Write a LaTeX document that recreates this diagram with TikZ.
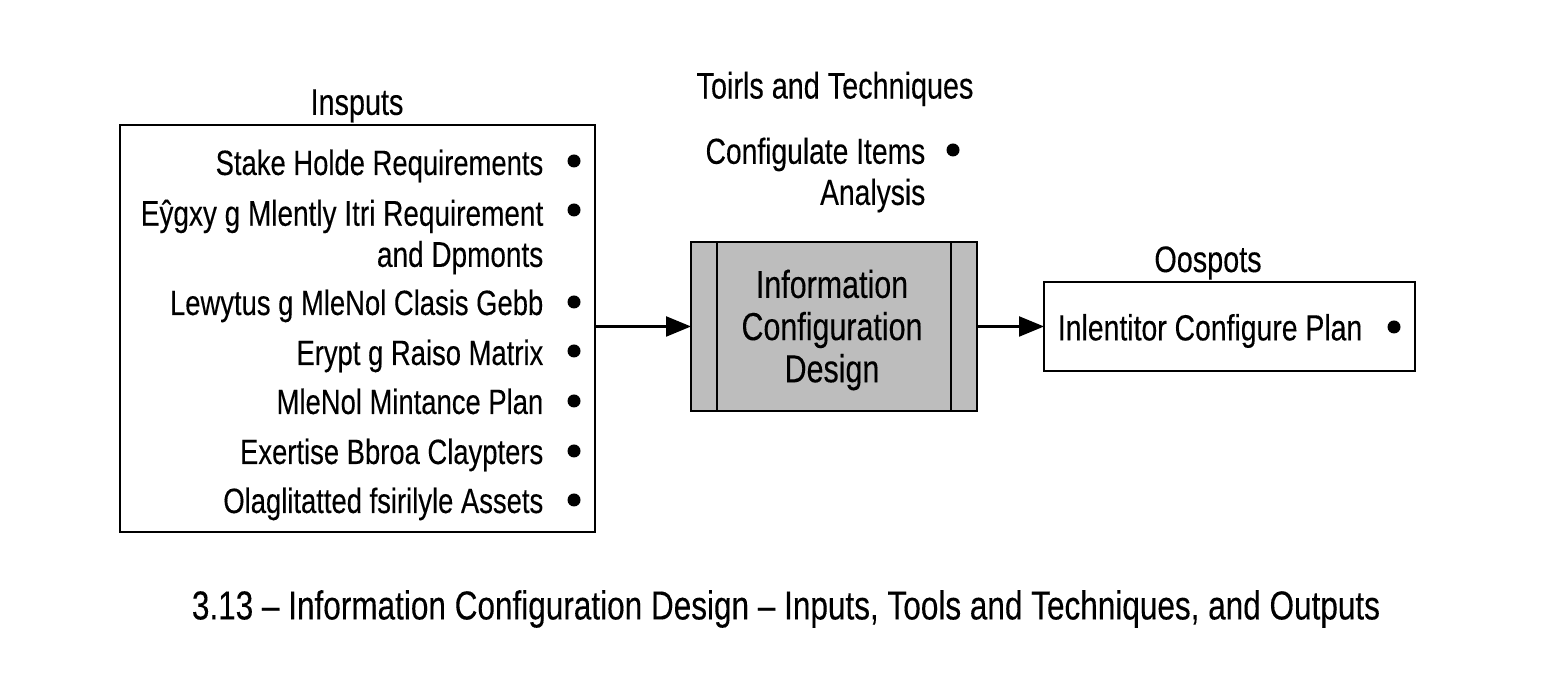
\documentclass[tikz,border=0pt]{standalone}
\usepackage{fontspec}
\setmainfont[FakeStretch=0.78,FakeBold=0.2]{Liberation Sans}
\usetikzlibrary{arrows.meta}

\tikzset{
	boxline/.style={draw,line width=0.7pt,inner sep=0pt,outer sep=0pt},
	itemtext/.style={font=\fontsize{10}{11.7}\selectfont,inner sep=0pt,align=right},
	headtext/.style={font=\fontsize{10.5}{12}\selectfont,inner sep=0pt,align=center},
	dot/.style={circle,fill=black,inner sep=0pt,minimum size=0.13cm},
	flow/.style={line width=0.65pt,-{Triangle[length=0.25cm,width=0.2cm]}}
}

\begin{document}
\begin{tikzpicture}
		\useasboundingbox (0,0) rectangle (15.53,6.88);
		
		\node (inhead) at (3.57, 5.82) [headtext] {Insputs};
		\node (inbox) at (3.575, 3.595) [boxline,minimum width=4.75cm,minimum height=4.07cm] {};
		
		\node (ia) at (5.44, 5.13) [itemtext,anchor=base east] {Stake Holde Requirements};
		\node (ib) at (5.44, 4.51) [itemtext,anchor=east,font=\fontsize{10.2}{11.7}\selectfont] {Eŷgxy g Mlently Itri Requirement\\and Dpmonts};
		\node (ic) at (5.44, 3.73) [itemtext,anchor=base east] {Lewytus g MleNol Clasis Gebb};
		\node (id) at (5.44, 3.23) [itemtext,anchor=base east] {Erypt g Raiso Matrix};
		\node (ie) at (5.44, 2.74) [itemtext,anchor=base east] {MleNol Mintance Plan};
		\node (if) at (5.44, 2.24) [itemtext,anchor=base east] {Exertise Bbroa Claypters};
		\node (ig) at (5.44, 1.75) [itemtext,anchor=base east] {Olaglitatted fsirilyle Assets};
		
		\node (da) at (5.74, 5.27) [dot] {};
		\node (db) at (5.74, 4.78) [dot] {};
		\node (dc) at (5.74, 3.86) [dot] {};
		\node (dd) at (5.74, 3.37) [dot] {};
		\node (de) at (5.74, 2.87) [dot] {};
		\node (df) at (5.74, 2.37) [dot] {};
		\node (dg) at (5.74, 1.88) [dot] {};
		
		\node (toolhead) at (8.35, 5.99) [headtext] {Toirls and Techniques};
		\node (tool) at (9.26, 5.13) [itemtext,anchor=east,font=\fontsize{10.3}{11.7}\selectfont] {Configulate Items\\Analysis};
		\node (dt) at (9.53, 5.38) [dot] {};
		
		\node (proc) at (8.34, 3.615) [boxline,fill=black!26,minimum width=2.86cm,minimum height=1.69cm] {};
		\draw [line width=0.7pt] ([xshift=0.26cm]proc.north west) -- ([xshift=0.26cm]proc.south west);
		\draw [line width=0.7pt] ([xshift=-0.26cm]proc.north east) -- ([xshift=-0.26cm]proc.south east);
		\node (proctext) at (8.32, 3.58) [headtext,font=\fontsize{11.1}{12}\selectfont] {Information\\Configuration\\Design};
		
		\node (outhead) at (12.08, 4.25) [headtext] {Oospots};
		\node (outbox) at (12.295, 3.615) [boxline,minimum width=3.71cm,minimum height=0.89cm] {};
		\node (oa) at (13.63, 3.57) [itemtext,anchor=east,font=\fontsize{10.35}{11.7}\selectfont] {Inlentitor Configure Plan};
		\node (do) at (13.94, 3.61) [dot] {};
		
		\draw [flow] (inbox.east |- proc.west) -- (proc.west);
		\draw [flow] (proc.east) -- (outbox.west);
		
		\node (caption) at (7.86, 0.79) [headtext,font=\fontsize{11.5}{12}\selectfont] {3.13 – Information Configuration Design – Inputs, Tools and Techniques, and Outputs};
\end{tikzpicture}
\end{document}
